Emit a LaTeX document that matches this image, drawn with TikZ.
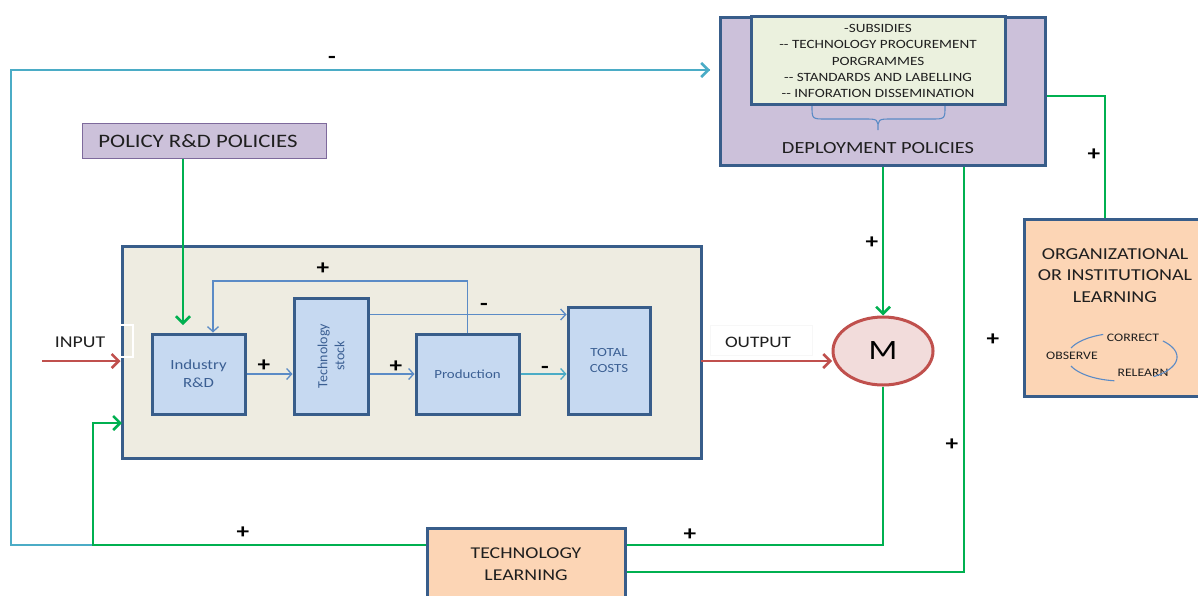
\documentclass[tikz,border=0pt]{standalone}
\usepackage{fontspec}
\setmainfont{Carlito}[FakeStretch=1.2]
\newfontfamily\rotfont{Carlito}
\usetikzlibrary{arrows.meta,calc,shapes.geometric}
\definecolor{bdr}{HTML}{385D8A}
\definecolor{purp}{HTML}{CCC1DA}
\definecolor{polb}{HTML}{7E6A9C}
\definecolor{innr}{HTML}{EBF1DE}
\definecolor{mainf}{HTML}{EEECE1}
\definecolor{lbf}{HTML}{C6D9F1}
\definecolor{peach}{HTML}{FCD5B5}
\definecolor{mfill}{HTML}{F2DCDB}
\definecolor{mred}{HTML}{C0504D}
\definecolor{grn}{HTML}{00B050}
\definecolor{cyn}{HTML}{4BACC6}
\definecolor{lblue}{HTML}{5B8BC6}
\definecolor{dtxt}{HTML}{3B5F93}
\definecolor{btxt}{HTML}{1F1F1F}
\definecolor{faint}{HTML}{F7F7F7}
\begin{document}
\begin{tikzpicture}[x=1pt,y=-1pt,
  box/.style={draw=bdr,line width=3pt,inner sep=0pt,align=center},
  tip/.style={-{Straight Barb[length=7pt,width=14pt]}},
  stip/.style={-{Straight Barb[length=5pt,width=11pt]}},
  gline/.style={draw=grn,line width=2.5pt},
  rline/.style={draw=mred,line width=2.5pt},
  cline/.style={draw=cyn,line width=2.5pt},
  bline/.style={draw=lblue,line width=1.3pt},
  sign/.style={font=\fontsize{21}{21}\selectfont\bfseries,inner sep=0pt,text=black},
  lab/.style={text=btxt,align=center,inner sep=0pt},
  itxt/.style={text=dtxt,align=center,inner sep=0pt}
]
\useasboundingbox[fill=white] (0,0) rectangle (1198,595);

% deployment policies
\node[box,fill=purp,minimum width=325pt,minimum height=148pt] (dep) at (882.5,91) {};
\node[box,fill=innr,minimum width=254pt,minimum height=88pt] (depin) at (878,60) {};
\node[lab,font=\fontsize{12.6}{16.25}\selectfont] (deplist) at (878,61) {-SUBSIDIES\\{-}{-} TECHNOLOGY PROCUREMENT\\PORGRAMMES\\{-}{-} STANDARDS AND LABELLING\\{-}{-} INFORATION DISSEMINATION};
\node[lab,font=\fontsize{17}{20}\selectfont] (deplab) at (878,148) {DEPLOYMENT POLICIES};
\draw[bline,line width=1.1pt] (812,106) .. controls (812,119) .. (826,119) -- (864,119) .. controls (878,119) .. (878,130)
  .. controls (878,119) .. (892,119) -- (931,119) .. controls (945,119) .. (945,106);

% policy R&D
\node[draw=polb,line width=1pt,fill=purp,minimum width=244pt,minimum height=35pt] (pol) at (204,140.5) {};
\node[lab,font=\fontsize{19}{22}\selectfont] (polt) at (198,141) {POLICY R\&D POLICIES};

% main box
\node[box,fill=mainf,minimum width=579pt,minimum height=212pt] (main) at (411.5,352) {};
\node[draw=white,line width=1.3pt,minimum width=92pt,minimum height=32pt] (inbox) at (87,341) {};
\node[lab,font=\fontsize{16.5}{20}\selectfont] (inp) at (80,342) {INPUT};

\node[box,fill=lbf,minimum width=93pt,minimum height=80pt,text=dtxt,font=\fontsize{14}{18}\selectfont] (ird) at (198.5,374) {Industry\\R\&D};
\node[box,fill=lbf,minimum width=74pt,minimum height=116pt] (ts) at (331,356) {};
\node[itxt,rotate=90,font=\rotfont\fontsize{14}{17}\selectfont] (tst) at (331,356) {Technology\\stock};
\node[box,fill=lbf,minimum width=103pt,minimum height=80pt,text=dtxt,font=\fontsize{12.4}{16}\selectfont] (prod) at (467.5,374) {Production};
\node[box,fill=lbf,minimum width=82pt,minimum height=107pt,text=dtxt,font=\fontsize{12.4}{16}\selectfont] (tc) at (609,360.5) {TOTAL\\COSTS};

% M
\node[ellipse,draw=mred,line width=3pt,fill=mfill,minimum width=100pt,minimum height=68pt,inner sep=0pt,font=\fontsize{28}{30}\selectfont] (M) at (883,351) {M};
\node[draw=faint,line width=1pt,minimum width=102pt,minimum height=30pt] (outbox) at (761,340) {};
\node[lab,font=\fontsize{16}{20}\selectfont] (outt) at (758,342) {OUTPUT};

% technology learning
\node[box,fill=peach,minimum width=198pt,minimum height=70pt] (tl) at (526,563) {};
\node[lab,font=\fontsize{16.5}{22}\selectfont] (tlt) at (526,564) {TECHNOLOGY\\LEARNING};

% organizational learning
\node[box,fill=peach,minimum width=180pt,minimum height=177pt] (org) at (1114,307.5) {};
\node[lab,font=\fontsize{16.7}{21.5}\selectfont] (orgt) at (1115,275.5) {ORGANIZATIONAL\\OR INSTITUTIONAL\\LEARNING};
\node[lab,font=\fontsize{11.5}{14}\selectfont] (corr) at (1133,338) {CORRECT};
\node[lab,font=\fontsize{11.5}{14}\selectfont] (obs) at (1072,356) {OBSERVE};
\node[lab,font=\fontsize{11.5}{14}\selectfont] (rel) at (1143,373) {RELEARN};
\draw[bline,line width=1.1pt] plot[domain=-110:-158,samples=30,smooth] ({1122+55*cos(\x)},{357+24*sin(\x)});
\draw[bline,line width=1.1pt] plot[domain=158:98,samples=30,smooth] ({1122+55*cos(\x)},{357+24*sin(\x)});
\draw[bline,line width=1.1pt] plot[domain=-42:55,samples=30,smooth] ({1122+55*cos(\x)},{357+24*sin(\x)});

% coordinates
\coordinate (polin) at (183,325);
\coordinate (fb) at (213,281);
\coordinate (inS) at (42,361);
\coordinate (outS) at (701,361);
\coordinate (outE) at (832,361);
\coordinate (c1) at (964,572);
\coordinate (c2) at (883,545);
\coordinate (c3) at (93,545);
\coordinate (c4) at (122,423);
\coordinate (c5) at (11,545);
\coordinate (c6) at (710,70);
\coordinate (c7) at (1105,96);

% inner connectors
\draw[gline,tip] (pol.south -| polin) -- (polin);
\draw[bline,stip] (prod.north) |- (fb) -- (fb |- ird.north);
\draw[bline,stip] ($(ts.north east)+(0,18)$) coordinate (q1) -- (q1 -| tc.west);
\draw[bline,stip] (ird.east) -- (ird.east -| ts.west);
\draw[bline,stip] (prod.west -| ts.east) -- (prod.west);
\draw[bline,draw=cyn,stip] (prod.east) -- (prod.east -| tc.west);
\draw[rline,tip] (inS) -- (inS -| main.west);
\draw[rline,tip] (outS) -- (outE);

% outer connectors
\draw[gline,tip] (dep.south -| M.north) -- (M.north);
\draw[gline] (dep.south -| c1) -- (c1) -- (c1 -| tl.east);
\draw[gline] (M.south) -- (c2) -- (c2 -| tl.east);
\draw[cline] (c3) -- (c5) |- (c6);
\draw[cline,tip] ($(c6)+(-10,0)$) -- (c6);
\draw[gline,tip] (c3 -| tl.west) -- (c3) |- (c4);
\draw[gline] (org.north -| c7) -- (c7) -- (c7 -| dep.east);

% signs
\node[sign] (s1) at (323,269) {+};
\node[sign] (s2) at (484,307) {-};
\node[sign] (s3) at (264,366) {+};
\node[sign] (s4) at (396,367) {+};
\node[sign] (s5) at (545,370) {-};
\node[sign] (s6) at (332,60) {-};
\node[sign] (s7) at (872,243) {+};
\node[sign] (s8) at (1094,155) {+};
\node[sign] (s9) at (993,340) {+};
\node[sign] (s10) at (952,445) {+};
\node[sign] (s11) at (690,535) {+};
\node[sign] (s12) at (243,533) {+};
\end{tikzpicture}
\end{document}
